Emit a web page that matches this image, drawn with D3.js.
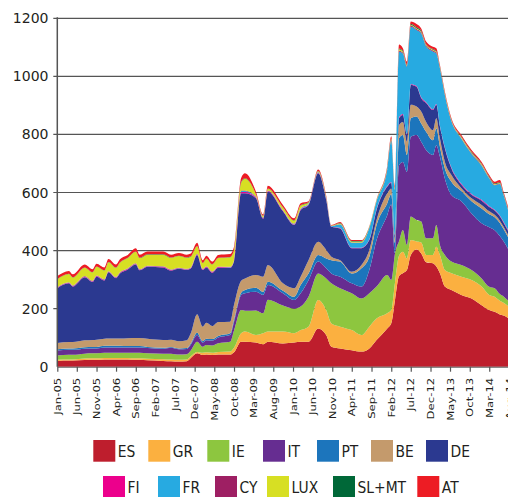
<!DOCTYPE html>
<html>
<head>
<meta charset="utf-8">
<script src="https://cdn.jsdelivr.net/npm/d3@7"></script>
<style>
  body { margin: 0; background: #fff; }
  svg { display: block; }
</style>
</head>
<body>
<div class="chart"></div>
<script>
// Sample dates (monthly-ish, denser around the spikes)
const dates = [
  '2005-01-01','2005-04-01','2005-05-01','2005-08-01','2005-10-01','2005-11-01',
  '2006-01-01','2006-02-01','2006-04-01','2006-05-01','2006-07-01','2006-09-01','2006-10-01','2006-12-01',
  '2007-04-01','2007-06-01','2007-08-01','2007-10-01','2007-11-01','2007-12-20',
  '2008-02-01','2008-03-01','2008-04-15','2008-06-01','2008-09-01','2008-10-01','2008-11-25','2008-12-25',
  '2009-03-20','2009-05-15','2009-06-20','2009-10-15',
  '2010-01-10','2010-03-01','2010-05-01','2010-07-15','2010-09-15','2010-10-25',
  '2011-01-01','2011-04-01','2011-06-15','2011-08-15','2011-10-10',
  '2012-01-01','2012-02-01','2012-03-01','2012-04-01','2012-05-01','2012-06-01','2012-07-01',
  '2012-08-15','2012-09-20','2012-10-28','2012-12-20',
  '2013-01-15','2013-02-12','2013-03-22','2013-05-12','2013-07-28','2013-10-15',
  '2014-01-01','2014-03-01','2014-04-12','2014-05-22','2014-06-20','2014-08-01'
];

// EUR bn, one value per date
const ES = [20,21,21,23,24,24,25,25,25,25,25,24,24,22,20,19,18,19,30,46,40,42,40,42,42,50,86,86,83,77,86,80,83,86,86,132,109,69,63,57,52,63,92,132,150,230,312,322,333,385,404,390,360,356,345,322,276,264,247,235,212,195,189,180,176,166];
const GR = [4,4,4,5,5,5,5,5,5,5,5,5,5,5,6,6,6,6,6,5,8,8,8,9,10,15,29,35,26,38,35,41,32,40,52,98,86,80,75,69,57,75,74,52,45,60,70,74,40,51,27,38,25,29,68,63,57,58,63,64,64,52,52,47,44,40];
const IE = [15,16,16,17,17,17,18,18,18,18,18,19,19,19,19,20,18,18,20,35,21,25,25,30,34,60,80,72,85,69,110,90,85,81,103,91,109,138,132,127,126,115,110,132,104,100,50,75,46,81,74,72,57,57,75,34,52,40,40,34,28,28,29,23,22,18];
const IT = [17,17,17,17,17,17,18,18,18,18,18,18,18,18,17,20,18,18,20,23,14,16,17,20,23,30,52,60,64,63,50,42,30,46,57,41,35,34,40,34,41,80,160,206,260,0,262,234,252,275,293,275,304,287,275,304,263,229,220,195,190,205,200,200,190,176];
const PT = [4,5,5,5,5,5,6,6,6,6,5,5,5,4,3,3,3,3,4,8,5,5,5,5,6,8,8,11,14,11,12,9,11,28,23,23,34,46,52,34,63,46,52,41,35,35,93,93,58,64,64,63,63,51,58,35,35,46,35,42,51,45,45,45,42,40];
const BE = [22,22,22,24,24,25,24,25,25,25,27,28,28,28,27,25,25,27,35,64,50,55,45,48,40,50,41,40,44,52,57,25,29,29,46,45,29,12,5,6,11,23,17,34,20,15,45,45,46,46,34,41,34,35,35,29,23,23,10,10,12,10,8,8,8,8];
const DE = [188,202,191,217,200,217,201,228,208,224,237,253,233,248,250,238,249,242,223,204,195,191,184,187,185,150,301,293,264,200,253,248,218,230,190,236,172,103,109,81,58,34,35,23,20,10,24,24,23,68,68,46,65,69,46,40,46,23,12,12,15,15,15,15,14,14];
const FI = [2,2,2,2,2,2,2,2,2,2,2,2,2,2,2,2,2,2,2,2,2,2,2,2,2,2,5,5,3,2,2,2,2,2,2,2,2,1,2,2,2,2,2,2,2,2,3,3,3,3,3,3,3,3,3,3,3,3,3,3,3,3,3,3,3,3];
const FR = [1,1,1,1,1,1,1,1,1,1,1,1,1,1,1,1,1,1,1,1,1,1,1,1,1,1,3,3,1,1,1,1,2,2,2,2,3,2,12,17,17,40,28,57,142,155,226,209,232,198,193,220,192,199,174,198,181,159,155,138,117,95,84,108,92,63];
const CY = [1,1,1,1,1,1,1,1,1,1,1,1,1,1,1,1,1,1,1,1,1,1,1,1,1,1,2,2,1,1,1,1,1,1,1,1,1,0,1,1,1,1,1,2,2,2,3,3,3,3,3,3,3,3,3,2,2,2,2,2,2,2,2,2,2,2];
const LUX = [27,28,27,29,29,30,30,31,32,33,35,40,38,38,40,40,40,38,37,26,20,26,24,29,33,35,27,40,8,5,6,9,10,10,3,2,3,1,2,3,3,2,2,3,3,3,5,4,3,3,3,3,3,3,3,2,3,3,3,3,3,2,2,2,2,2];
const SLMT = [1,1,1,1,1,1,1,1,1,1,1,1,1,1,1,1,1,1,1,1,1,1,1,1,1,1,2,2,1,1,1,1,1,1,1,1,1,0,2,2,2,1,1,2,2,2,3,3,2,3,3,3,2,2,2,2,2,1,2,2,2,2,2,2,2,2];
const AT = [10,10,10,10,10,10,10,10,10,11,10,11,11,10,10,10,10,10,10,11,9,9,9,10,10,10,14,17,9,5,9,8,7,7,4,5,5,2,3,3,3,2,2,6,9,8,14,8,10,9,11,8,9,8,10,5,5,5,6,6,6,6,6,8,6,6];

const seriesNames = ['ES','GR','IE','IT','PT','BE','DE','FI','FR','CY','LUX','SL+MT','AT'];
const seriesValues = [ES, GR, IE, IT, PT, BE, DE, FI, FR, CY, LUX, SLMT, AT];
const seriesColors = ['#be1e2d','#fbb040','#8dc63f','#662d91','#1c75bc','#c49a6c','#2b3990',
                      '#ec008c','#27aae1','#9e1f63','#d7df23','#006838','#ed1c24'];
const yTicks = [0, 200, 400, 600, 800, 1000, 1200];
const legendRows = [['ES','GR','IE','IT','PT','BE','DE'], ['FI','FR','CY','LUX','SL+MT','AT']];

// layout
const width = 508, height = 497;
const plot = { left: 57.3, right: 509, top: 18.3, bottom: 366.7 };
const legendX = [[93.3,148.3,207.3,263,317,371,426], [103,158,215,267,333,417.3]];
const legendY = [440, 476];

const svg = d3.select('.chart')
  .append('svg')
  .attr('width', width)
  .attr('height', height);

const parseDate = d3.timeParse('%Y-%m-%d');

const rows = dates.map((d, i) => {
  const row = { date: parseDate(d) };
  seriesNames.forEach((k, j) => { row[k] = seriesValues[j][i]; });
  return row;
});

const x = d3.scaleTime()
  .domain([parseDate('2005-01-01'), parseDate('2014-08-01')])
  .range([plot.left, plot.right]);

const y = d3.scaleLinear()
  .domain([0, 1200])
  .range([plot.bottom, plot.top]);

// Gridlines
svg.append('g')
  .selectAll('line')
  .data(yTicks.filter(t => t > 0))
  .join('line')
  .attr('x1', plot.left - 4)
  .attr('x2', width)
  .attr('y1', d => y(d))
  .attr('y2', d => y(d))
  .attr('stroke', '#555')
  .attr('stroke-width', 1.2);

// Y labels
svg.append('g')
  .selectAll('text')
  .data(yTicks)
  .join('text')
  .attr('x', 48.5)
  .attr('y', d => y(d))
  .attr('dy', '0.36em')
  .attr('text-anchor', 'end')
  .style('font-family', 'DejaVu Sans, Verdana, sans-serif')
  .style('font-size', '14px')
  .attr('fill', '#231f20')
  .text(d => d);

// Stacked areas
const stacked = d3.stack().keys(seriesNames)(rows);

const area = d3.area()
  .x(d => x(d.data.date))
  .y0(d => y(d[0]))
  .y1(d => y(d[1]))
  .curve(d3.curveMonotoneX);

svg.append('g')
  .selectAll('path')
  .data(stacked)
  .join('path')
  .attr('fill', (d, i) => seriesColors[i])
  .attr('d', area);

// Y axis line
svg.append('line')
  .attr('x1', plot.left)
  .attr('x2', plot.left)
  .attr('y1', plot.top - 1)
  .attr('y2', plot.bottom)
  .attr('stroke', '#555')
  .attr('stroke-width', 1.5);

// X axis, a tick every 5 months
const xTicks = d3.timeMonth.range(parseDate('2005-01-01'), parseDate('2014-08-02'), 5);

const xAxis = d3.axisBottom(x)
  .tickValues(xTicks)
  .tickFormat(d3.timeFormat('%b-%y'))
  .tickSize(5)
  .tickSizeOuter(0);

const gx = svg.append('g')
  .attr('transform', `translate(0,${plot.bottom})`)
  .call(xAxis);

gx.select('.domain').attr('stroke', '#555').attr('stroke-width', 1);
gx.selectAll('.tick line').attr('stroke', '#555').attr('stroke-width', 1.2);
gx.selectAll('.tick text')
  .attr('x', 0)
  .attr('y', 0)
  .attr('dy', '0.35em')
  .attr('text-anchor', 'end')
  .attr('transform', 'translate(0,11) rotate(-90) scale(1.3,1)')
  .style('font-family', 'DejaVu Sans, Verdana, sans-serif')
  .style('font-size', '9px')
  .attr('fill', '#231f20');

// Legend (narrow lettering like the original)
const legend = svg.append('g');
legendRows.forEach((names, r) => {
  names.forEach((name, c) => {
    const i = seriesNames.indexOf(name);
    const lx = legendX[r][c];
    const ly = legendY[r];
    legend.append('rect')
      .attr('x', lx)
      .attr('y', ly)
      .attr('width', 22)
      .attr('height', 21.7)
      .attr('fill', seriesColors[i]);
    const t = legend.append('text')
      .attr('x', lx + 24.5)
      .attr('y', ly + 17.3)
      .style('font-family', 'DejaVu Sans, sans-serif')
      .style('font-size', '16.5px')
      .attr('fill', '#231f20')
      .text(name);
    const w = t.node().getComputedTextLength();
    t.attr('textLength', w * 0.84).attr('lengthAdjust', 'spacingAndGlyphs');
  });
});
</script>
</body>
</html>
